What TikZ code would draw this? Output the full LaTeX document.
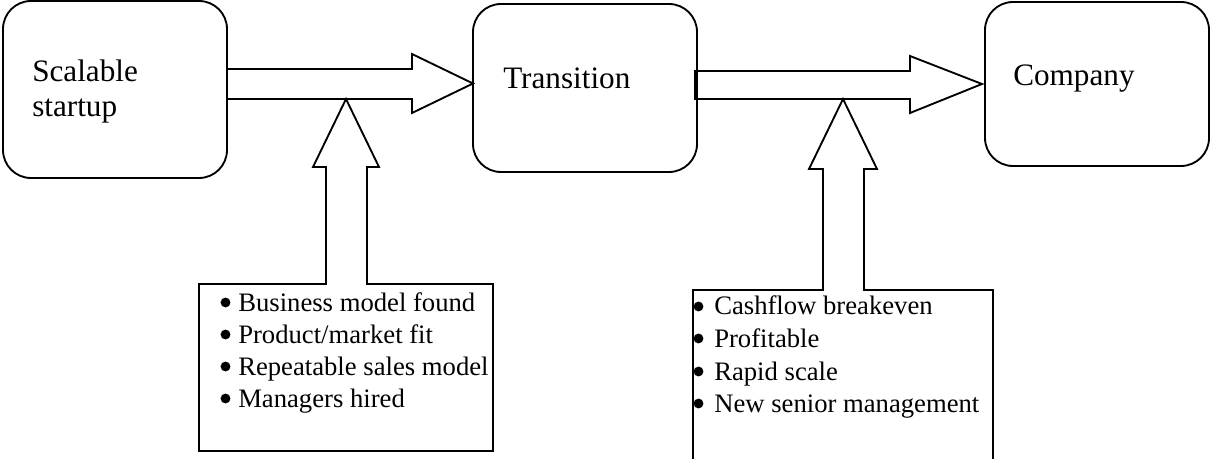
\documentclass[tikz,border=0pt]{standalone}
\usepackage{fontspec}
\setmainfont{Liberation Serif}
\begin{document}
\begin{tikzpicture}[x=0.75pt, y=-0.75pt,
  outline/.style={draw=black, line width=1.4pt, line join=miter},
  stage/.style={outline, rectangle, rounded corners=21pt, minimum width=168pt, inner sep=0pt},
  bigtext/.style={anchor=base west, inner sep=0pt, font=\fontsize{23.4}{28}\selectfont},
  listtext/.style={anchor=base west, inner sep=0pt, font=\fontsize{20}{24}\selectfont},
  dot/.style={circle, fill=black, inner sep=0pt, minimum size=7.4pt}]
\clip (0,0) rectangle (1212,459);

% stage boxes
\node[stage, minimum height=132.75pt] (startup) at (115,89.5) {};
\node[stage, minimum height=126pt] (transition) at (585,88) {};
\node[stage, minimum height=123pt] (company) at (1097,84) {};

\node[bigtext] (t1a) at (32,82) {Scalable};
\node[bigtext] (t1b) at (32,117) {startup};
\node[bigtext] (t2) at (503,89) {Transition};
\node[bigtext] (t3) at (1013,86) {Company};

% block arrows between the stages
\coordinate (tip1) at (473,83.5);
\coordinate (tip2) at (982,84);
\draw[outline] (227,69) -- (412,69) -- (412,54) -- (tip1) -- (412,113) -- (412,99) -- (227,99);
\draw[outline] (695,71) -- (910,71) -- (910,56) -- (tip2) -- (910,113) -- (910,99) -- (695,99) -- cycle;

% condition boxes with their upward arrows
\coordinate (tip3) at (346,99);
\coordinate (tip4) at (843,99);
\draw[outline] (326,284) -- (326,167) -- (313,167) -- (tip3) -- (379,167) -- (367,167) -- (367,284)
  -- (493,284) -- (493,451) -- (199,451) -- (199,284) -- cycle;
\draw[outline] (693,480) -- (693,290) -- (823,290) -- (823,169) -- (809,169) -- (tip4) -- (877,169)
  -- (864,169) -- (864,290) -- (993,290) -- (993,480);

% first list
\foreach \y/\txt [count=\i] in {311/Business model found, 343/Product\slash market fit,
    375/Repeatable sales model, 407/Managers hired} {
  \node[dot] (b1\i) at (225.5,\y-8.5) {};
  \node[listtext] (l1\i) at (238,\y) {\txt};
}
% second list
\foreach \y/\txt [count=\i] in {315/Cashflow breakeven, 347/Profitable,
    380/Rapid scale, 412/New senior management} {
  \node[dot] (b2\i) at (698.5,\y-8.5) {};
  \node[listtext] (l2\i) at (714,\y) {\txt};
}
\end{tikzpicture}
\end{document}
